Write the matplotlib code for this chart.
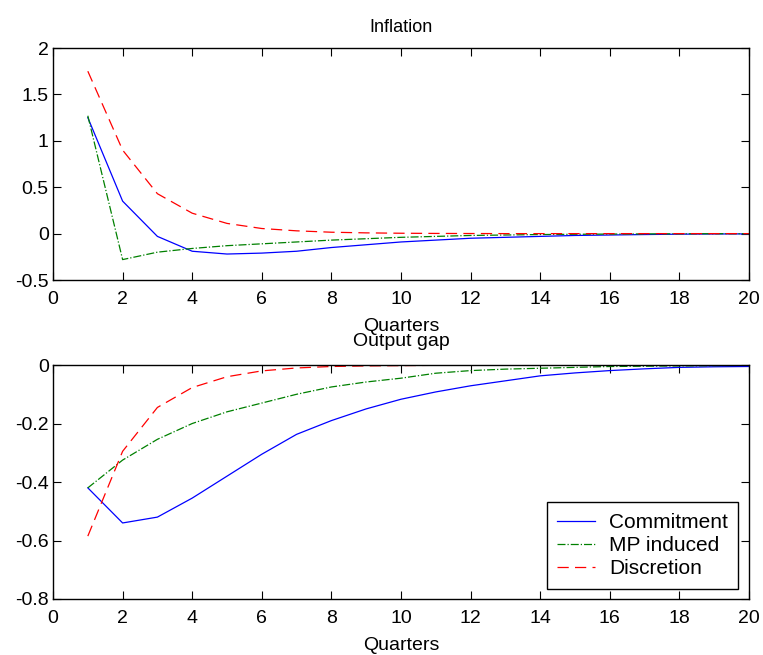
import numpy as np
import matplotlib
matplotlib.use('Agg')
import matplotlib.pyplot as plt

plt.rcParams['font.family'] = ['Liberation Sans', 'DejaVu Sans']

quarters = list(range(1, 21))

# Inflation responses
infl_commitment = [1.25, 0.35, -0.03, -0.19, -0.22, -0.21, -0.19, -0.15, -0.12, -0.09,
                   -0.07, -0.05, -0.04, -0.03, -0.02, -0.015, -0.01, -0.006, -0.004, -0.003]
infl_mp = [1.27, -0.28, -0.2, -0.16, -0.13, -0.11, -0.09, -0.07, -0.055, -0.04,
           -0.03, -0.02, -0.015, -0.01, -0.007, -0.005, -0.003, -0.002, -0.001, -0.001]
infl_discretion = [1.75, 0.9, 0.43, 0.22, 0.11, 0.055, 0.03, 0.015, 0.008, 0.004,
                   0.002, 0.001, 0.0, 0.0, 0.0, 0.0, 0.0, 0.0, 0.0, 0.0]

# Output gap responses
gap_commitment = [-0.42, -0.54, -0.52, -0.455, -0.38, -0.305, -0.237, -0.19, -0.15, -0.117,
                  -0.092, -0.071, -0.054, -0.037, -0.027, -0.019, -0.013, -0.008, -0.006, -0.005]
gap_mp = [-0.42, -0.325, -0.254, -0.2, -0.16, -0.13, -0.1, -0.075, -0.058, -0.045,
          -0.028, -0.019, -0.014, -0.011, -0.008, -0.005, -0.004, -0.003, -0.002, -0.001]
gap_discretion = [-0.585, -0.295, -0.145, -0.077, -0.04, -0.02, -0.01, -0.005, -0.003, -0.002,
                  -0.001, 0.0, 0.0, 0.0, 0.0, 0.0, 0.0, 0.0, 0.0, 0.0]

labels = ['Commitment', 'MP induced', 'Discretion']
colors = ['#0000ff', '#008000', '#ff0000']
styles = ['-', '-.', (0, (9, 5))]

fig = plt.figure(figsize=(7.63, 6.55), dpi=100)
ax1 = fig.add_axes([0.0695, 0.5725, 0.912, 0.3542])
ax2 = fig.add_axes([0.0695, 0.0855, 0.912, 0.3572])


def style_axis(ax):
    ax.set_xlim(0, 20)
    ax.set_xticks(range(0, 21, 2))
    ax.tick_params(direction='in', length=6, top=True, right=True, labelsize=14, pad=3)
    ax.tick_params(axis='x', pad=8)
    for sp in ax.spines.values():
        sp.set_linewidth(1.0)


for y, c, ls, lab in zip([infl_commitment, infl_mp, infl_discretion], colors, styles, labels):
    ax1.plot(quarters, y, color=c, linestyle=ls, linewidth=0.9, label=lab)
style_axis(ax1)
ax1.set_ylim(-0.5, 2)
ax1.set_yticks([-0.5, 0, 0.5, 1, 1.5, 2])
ax1.set_yticklabels(['-0.5', '0', '0.5', '1', '1.5', '2'])
ax1.set_title('Inflation', fontsize=13, pad=11.5)
ax1.set_xlabel('Quarters', fontsize=14, labelpad=7)

for y, c, ls, lab in zip([gap_commitment, gap_mp, gap_discretion], colors, styles, labels):
    ax2.plot(quarters, y, color=c, linestyle=ls, linewidth=0.9, label=lab)
style_axis(ax2)
ax2.set_ylim(-0.8, 0)
ax2.set_yticks([-0.8, -0.6, -0.4, -0.2, 0])
ax2.set_yticklabels(['-0.8', '-0.6', '-0.4', '-0.2', '0'])
ax2.set_title('Output gap', fontsize=14, pad=13.5)
ax2.set_xlabel('Quarters', fontsize=14, labelpad=7)

leg = ax2.legend(loc='lower right', fontsize=15, fancybox=False, framealpha=1,
                 edgecolor='black', handlelength=1.8, borderaxespad=0.5,
                 labelspacing=0.2, handletextpad=0.7, borderpad=0.5)
leg.get_frame().set_linewidth(1.0)

fig.savefig('out.png', dpi=100)
